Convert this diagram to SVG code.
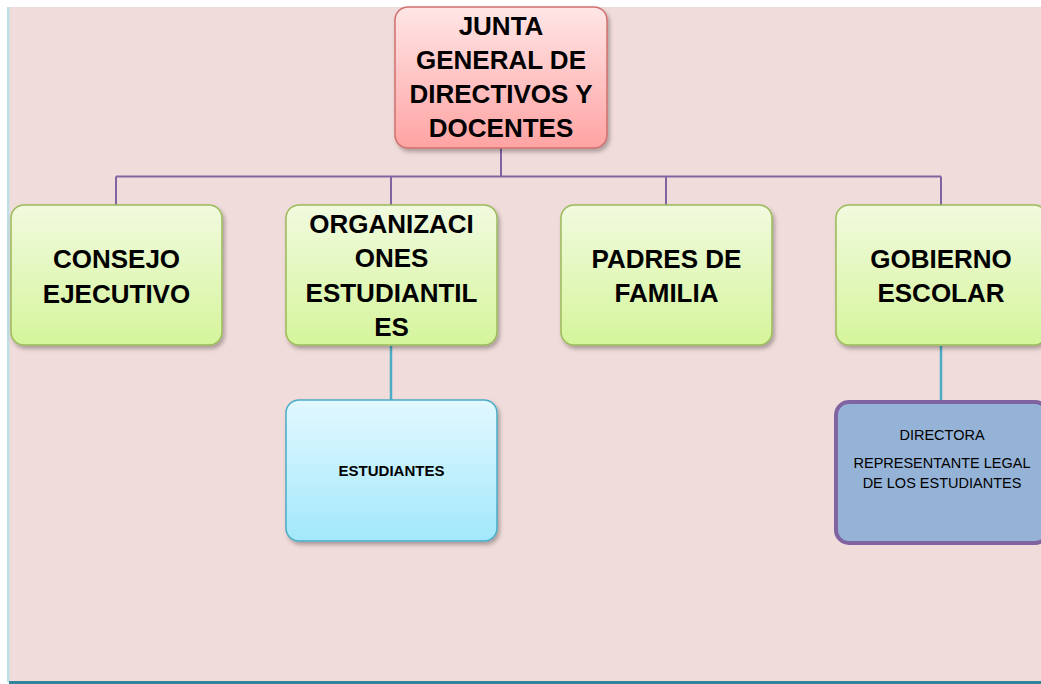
<svg xmlns="http://www.w3.org/2000/svg" width="1041" height="684" viewBox="0 0 1041 684">
  <defs>
    <linearGradient id="gRoot" x1="0" y1="0" x2="0" y2="1">
      <stop offset="0" stop-color="#FFE6E6"/>
      <stop offset="1" stop-color="#FFA3A3"/>
    </linearGradient>
    <linearGradient id="gGreen" x1="0" y1="0" x2="0" y2="1">
      <stop offset="0" stop-color="#F1FADF"/>
      <stop offset="1" stop-color="#D5F59B"/>
    </linearGradient>
    <linearGradient id="gBlue" x1="0" y1="0" x2="0" y2="1">
      <stop offset="0" stop-color="#E2F8FF"/>
      <stop offset="1" stop-color="#A2E8FB"/>
    </linearGradient>
    <filter id="sh" x="-10%" y="-10%" width="130%" height="130%">
      <feDropShadow dx="2" dy="3" stdDeviation="2" flood-color="#000" flood-opacity="0.3"/>
    </filter>
  </defs>
  <style>
    .big { font-family: "Liberation Sans", Arial, sans-serif; font-weight: bold; font-size: 26px; fill: #000; text-anchor: middle; }
    .small { font-family: "Liberation Sans", Arial, sans-serif; font-size: 14.5px; fill: #000; text-anchor: middle; }
    .smallb { font-family: "Liberation Sans", Arial, sans-serif; font-weight: bold; font-size: 15px; fill: #000; text-anchor: middle; }
    .green { fill: url(#gGreen); stroke: #9BBB59; stroke-width: 1.5; filter: url(#sh); }
    .conn { stroke: #8064A2; stroke-width: 2; fill: none; }
    .conn2 { stroke: #4BACC6; stroke-width: 2.5; fill: none; }
  </style>

  <!-- background -->
  <rect x="0" y="0" width="1041" height="684" fill="#FFFFFF"/>
  <rect x="9" y="7" width="1032" height="675" fill="#F0DCDB"/>
  <rect x="7" y="7" width="2.5" height="675" fill="#BFDDE6"/>
  <rect x="9" y="681" width="1032" height="3" fill="#31849B"/>

  <g id="connectors">
    <path class="conn" d="M501 148 V176.5 M116 176.5 H941 M116 176.5 V205 M391 176.5 V205 M666 176.5 V205 M941 176.5 V205"/>
    <path class="conn2" d="M391 346 V400 M941 346 V401"/>
  </g>

  <g id="root">
    <rect x="395" y="7" width="212" height="141" rx="13" fill="url(#gRoot)" stroke="#D0706E" stroke-width="1.5" filter="url(#sh)"/>
    <text class="big" x="501" y="35">JUNTA</text>
    <text class="big" x="501" y="69">GENERAL DE</text>
    <text class="big" x="501" y="103">DIRECTIVOS Y</text>
    <text class="big" x="501" y="137">DOCENTES</text>
  </g>

  <g id="consejo">
    <rect class="green" x="11" y="205" width="211" height="140" rx="13"/>
    <text class="big" x="116.5" y="268">CONSEJO</text>
    <text class="big" x="116.5" y="303">EJECUTIVO</text>
  </g>

  <g id="organizaciones">
    <rect class="green" x="286" y="205" width="211" height="140" rx="13"/>
    <text class="big" x="391.5" y="233">ORGANIZACI</text>
    <text class="big" x="391.5" y="267">ONES</text>
    <text class="big" x="391.5" y="302">ESTUDIANTIL</text>
    <text class="big" x="391.5" y="336">ES</text>
  </g>

  <g id="padres">
    <rect class="green" x="561" y="205" width="211" height="140" rx="13"/>
    <text class="big" x="666.5" y="268">PADRES DE</text>
    <text class="big" x="666.5" y="302">FAMILIA</text>
  </g>

  <g id="gobierno">
    <rect class="green" x="836" y="205" width="211" height="140" rx="13"/>
    <text class="big" x="941" y="268">GOBIERNO</text>
    <text class="big" x="941" y="302">ESCOLAR</text>
  </g>

  <g id="estudiantes">
    <rect x="286" y="400" width="211" height="141" rx="13" fill="url(#gBlue)" stroke="#4BACC6" stroke-width="1.5" filter="url(#sh)"/>
    <text class="smallb" x="391.5" y="476">ESTUDIANTES</text>
  </g>

  <g id="directora">
    <rect x="836" y="402" width="212" height="141" rx="13" fill="#95B3D7" stroke="#8064A2" stroke-width="4"/>
    <text class="small" x="942" y="440">DIRECTORA</text>
    <text class="small" x="942" y="468">REPRESENTANTE LEGAL</text>
    <text class="small" x="942" y="488">DE LOS ESTUDIANTES</text>
  </g>
</svg>
